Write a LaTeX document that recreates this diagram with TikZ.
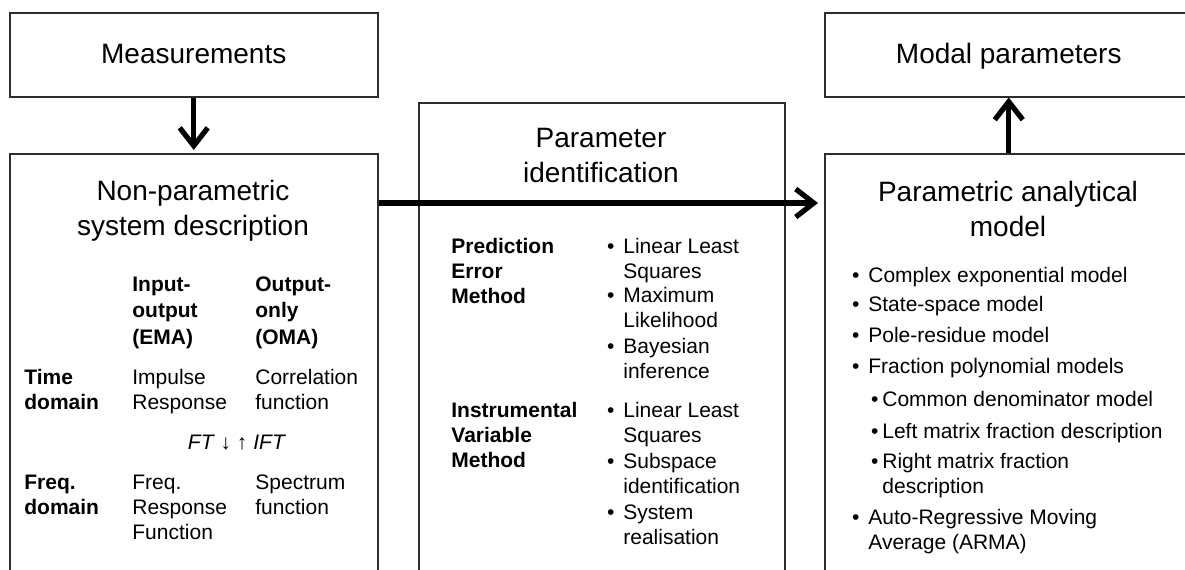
\documentclass[tikz,border=0pt]{standalone}
\usepackage{fontspec}
\setmainfont{Liberation Sans}
\usepackage{xcolor}
\usepackage{tikz}
\usetikzlibrary{arrows.meta, positioning}
\definecolor{figline}{RGB}{45,45,45}
\newcommand{\bul}{\llap{\textbullet\hspace{4.5pt}}}
\newcommand{\subbul}{\llap{\textbullet\hspace{2pt}}}
\tikzstyle{arrow} = [-{Straight Barb[length=9pt, width=14pt]}, line width=2.6pt, draw=black]
\tikzset{
    stagebox/.style={draw=figline, line width=0.75pt, rectangle, anchor=north west,
        minimum width=184pt, inner sep=0pt, text height=10.5pt, text depth=1.5pt,
        font=\fontsize{14}{17.5}\selectfont},
    stagetitle/.style={font=\fontsize{14}{17.5}\selectfont, align=center, inner sep=0pt},
    % multi-line cells sit on the baseline of their last line
    cell/.style={font=\fontsize{10.5}{12.5}\selectfont, align=left, anchor=base west, inner sep=0pt},
    rowhead/.style={cell, font=\fontsize{10.5}{12.5}\selectfont\bfseries},
    colhead/.style={cell, font=\fontsize{10.5}{13.2}\selectfont\bfseries},
}

\begin{document}
\begin{tikzpicture}[x=0.5pt, y=-0.5pt]
    \useasboundingbox (0,0) rectangle (1185,569);
    \clip (0,0) rectangle (1185,569);

    % stage boxes
    \node[stagebox, minimum height=42pt] (meas) at (9,12) {Measurements};
    \node[stagebox, minimum height=42pt] (modal) at (824,12) {Modal parameters};
    \node[stagebox, minimum height=260pt] (nonpar) at (9,153) {};
    \node[stagebox, minimum width=183pt, minimum height=260pt] (ident) at (418,102) {};
    \node[stagebox, minimum height=260pt] (parmod) at (824,153) {};

    \node[stagetitle] (nonpartitle) at (193,211) {Non-parametric\\system description};
    \node[stagetitle] (identtitle) at (601,155) {Parameter\\identification};
    \node[stagetitle] (parmodtitle) at (1008,209) {Parametric analytical\\model};

    % flow arrows
    \coordinate (flow) at (0,203);
    \draw[arrow, shorten >=1.5pt] (meas.south) -- (nonpar.north);
    \draw[arrow] (parmod.north) -- (modal.south);
    \draw[arrow, shorten >=3pt] (nonpar.east |- flow) -- (parmod.west |- flow);

    % non-parametric table
    \node[colhead] (emahead) at (132,344) {Input-\\output\\(EMA)};
    \node[colhead] (omahead) at (255,344) {Output-\\only\\(OMA)};
    \node[rowhead] (timelbl) at (24,409) {Time\\domain};
    \node[cell] (impulse) at (132,409) {Impulse\\Response};
    \node[cell] (corr) at (255,409) {Correlation\\function};
    \node[cell, anchor=base] (ftift) at (237,449) {\textit{FT} ↓ ↑ \textit{IFT}};
    \node[rowhead] (freqlbl) at (24,514) {Freq.\\domain};
    \node[cell] (frf) at (132,539) {Freq.\\Response\\Function};
    \node[cell] (spec) at (255,514) {Spectrum\\function};

    % identification methods
    \node[rowhead] (pem) at (451,303) {Prediction\\Error\\Method};
    \node[cell] (pemlls) at (623,278) {\bul Linear Least\\Squares};
    \node[cell] (pemml) at (623,327) {\bul Maximum\\Likelihood};
    \node[cell] (pembayes) at (623,378) {\bul Bayesian\\inference};
    \node[rowhead] (ivm) at (451,467) {Instrumental\\Variable\\Method};
    \node[cell] (ivmlls) at (623,442) {\bul Linear Least\\Squares};
    \node[cell] (ivmsub) at (623,493) {\bul Subspace\\identification};
    \node[cell] (ivmsys) at (623,544) {\bul System\\realisation};

    % analytical models
    \node[cell] (cexp) at (868,282) {\bul Complex exponential model};
    \node[cell] (sspace) at (868,311) {\bul State-space model};
    \node[cell] (poleres) at (868,342) {\bul Pole-residue model};
    \node[cell] (fracpoly) at (868,373) {\bul Fraction polynomial models};
    \node[cell] (cdm) at (882,406) {\subbul Common denominator model};
    \node[cell] (lmfd) at (882,438) {\subbul Left matrix fraction description};
    \node[cell] (rmfd) at (882,493) {\subbul Right matrix fraction\\description};
    \node[cell] (arma) at (868,549) {\bul Auto-Regressive Moving\\Average (ARMA)};
\end{tikzpicture}
\end{document}
